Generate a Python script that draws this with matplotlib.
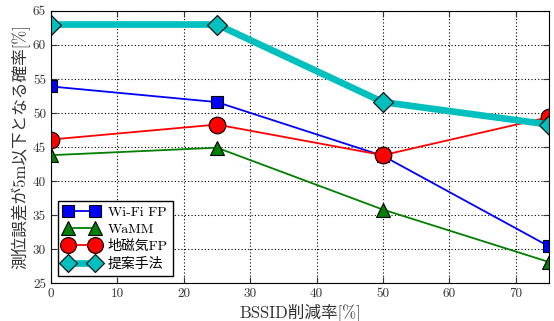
import matplotlib
matplotlib.use("Agg")
import matplotlib.pyplot as plt

plt.rcParams['font.family'] = ['cmr10', 'Noto Sans CJK JP', 'DejaVu Serif']
plt.rcParams['axes.formatter.use_mathtext'] = False

reduction = [0, 25, 50, 75]
wifi_fp = [53.9, 51.6, 43.7, 30.4]
wamm = [43.8, 44.9, 35.8, 28.1]
geomag_fp = [46.1, 48.3, 43.8, 49.4]
proposed = [63.0, 63.0, 51.6, 48.3]

labels = ['Wi-Fi FP', 'WaMM', '地磁気FP', '提案手法']

fig = plt.figure(figsize=(5.54, 3.21), dpi=100)
ax = fig.add_axes([0.092, 0.118, 0.899, 0.848])

ax.plot(reduction, wifi_fp, color='blue', lw=1.3, marker='s', ms=9,
        mfc='blue', mec='black', mew=0.8, label=labels[0])
ax.plot(reduction, wamm, color='green', lw=1.3, marker='^', ms=10,
        mfc='green', mec='black', mew=0.8, label=labels[1])
ax.plot(reduction, geomag_fp, color='red', lw=1.3, marker='o', ms=12,
        mfc='red', mec='black', mew=0.8, label=labels[2])
ax.plot(reduction, proposed, color='#00bfbf', lw=4.8, marker='D', ms=10,
        mfc='#00bfbf', mec='black', mew=0.8, label=labels[3])

ax.set_xlim(0, 75)
ax.set_ylim(25, 65)
ax.set_xticks(range(0, 71, 10))
ax.set_yticks(range(25, 66, 5))
ax.grid(True, color='black', linestyle=(0, (1, 2)), linewidth=0.8)
ax.tick_params(direction='in', top=True, right=True, labelsize=9.5,
               colors='#333333', length=4)
for s in ax.spines.values():
    s.set_color('black')

ax.set_xlabel('BSSID削減率[%]', fontsize=12, color='#333333', labelpad=2)
ax.set_ylabel('測位誤差が5m以下となる確率[%]', fontsize=12, color='#333333', labelpad=2)

leg = ax.legend(loc='lower left', numpoints=2, fontsize=10, fancybox=False,
                edgecolor='black', framealpha=1, handlelength=2.6,
                borderaxespad=0.5, labelspacing=0.3, markerscale=0.95,
                handletextpad=0.6)
leg.get_frame().set_linewidth(1.0)

fig.savefig('out.png', dpi=100)
